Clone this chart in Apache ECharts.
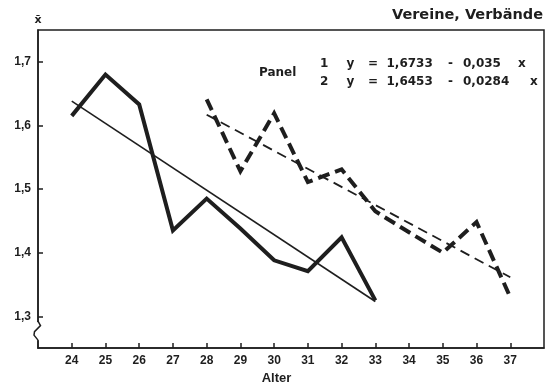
<!DOCTYPE html>
<html>
<head>
<meta charset="utf-8">
<script src="https://cdn.jsdelivr.net/npm/echarts@6/dist/echarts.min.js"></script>
<style>
  html, body { margin: 0; padding: 0; background: #fff; }
  #chart { width: 546px; height: 390px; }
</style>
</head>
<body>
<div id="chart"></div>
<script>
// Mean values by age (Alter) for two panels
const ages1 = [24, 25, 26, 27, 28, 29, 30, 31, 32, 33];
const panel1 = [1.615, 1.680, 1.633, 1.435, 1.485, 1.438, 1.388, 1.371, 1.424, 1.325];

const ages2 = [28, 29, 30, 31, 32, 33, 34, 35, 36, 37];
const panel2 = [1.641, 1.528, 1.619, 1.511, 1.531, 1.465, 1.432, 1.400, 1.448, 1.330];

// Fitted lines, end points (x = 1 and x = 10 of each panel)
// Panel 1: y = 1,6733 - 0,035 x ; Panel 2: y = 1,6453 - 0,0284 x
const fitAges1 = [24, 33];
const fit1 = [1.6383, 1.3233];
const fitAges2 = [28, 37];
const fit2 = [1.6169, 1.3613];

// Tick labels
const xTicks = [24, 25, 26, 27, 28, 29, 30, 31, 32, 33, 34, 35, 36, 37];
const yTicks = [1.3, 1.4, 1.5, 1.6, 1.7];

const title = 'Vereine, Verbände';
const eqLines = [
  { label: '1', slope: '0,035', icept: '1,6733' },
  { label: '2', slope: '0,0284', icept: '1,6453' }
];

const ink = '#1e1e1e';
const pairs = (xs, ys) => xs.map((x, i) => [x, ys[i]]);
const tickFont = { color: ink, fontFamily: 'Liberation Sans', fontWeight: 'bold', fontSize: 12 };
const eqFont = { fill: ink, fontFamily: 'DejaVu Sans', fontWeight: 'bold', fontSize: 12, verticalAlign: 'middle' };

const chart = echarts.init(document.getElementById('chart'), null, { renderer: 'canvas' });

function txt(id, text, x, y) {
  return { id: id, type: 'text', x: x, y: y, z: 100, style: Object.assign({ text: text }, eqFont) };
}

const eqGraphics = [];
eqLines.forEach((e, i) => {
  const y = 63.5 + i * 18;
  eqGraphics.push(txt('eqn' + i, e.label, 320, y));
  eqGraphics.push(txt('eqy' + i, 'y', 346.5, y));
  eqGraphics.push(txt('eqeq' + i, '=', 368, y));
  eqGraphics.push(txt('eqa' + i, e.icept, 386.5, y));
  eqGraphics.push(txt('eqm' + i, '-', 448, y));
  eqGraphics.push(txt('eqb' + i, e.slope, 463, y));
  eqGraphics.push(txt('eqx' + i, 'x', i === 0 ? 518 : 530, y));
});

chart.setOption({
  animation: false,
  backgroundColor: '#fff',
  grid: {
    left: 38, right: 2, top: 30, bottom: 33.3,
    show: true, borderColor: ink, borderWidth: 1.5
  },
  xAxis: {
    type: 'value', min: 23, max: 38, interval: 1,
    name: 'Alter', nameLocation: 'middle', nameGap: 20,
    nameTextStyle: { color: ink, fontFamily: 'Liberation Sans', fontWeight: 'bold', fontSize: 13, padding: [0, 29, 0, 0] },
    axisLine: { lineStyle: { color: ink, width: 1.5 } },
    axisTick: { inside: true, length: 5, lineStyle: { color: ink, width: 1.5 }, customValues: xTicks },
    axisLabel: Object.assign({ margin: 7, customValues: xTicks, formatter: v => String(v) }, tickFont),
    splitLine: { show: false }
  },
  yAxis: {
    type: 'value', min: 1.25, max: 1.75, interval: 0.05,
    name: 'x\u0304', nameLocation: 'end', nameGap: 4,
    nameTextStyle: { color: ink, fontFamily: 'DejaVu Sans', fontWeight: 'bold', fontSize: 11, align: 'center' },
    axisLine: { lineStyle: { color: ink, width: 1.5 } },
    axisTick: { inside: true, length: 5, lineStyle: { color: ink, width: 1.5 }, customValues: yTicks },
    axisLabel: Object.assign({ margin: 7, customValues: yTicks, formatter: v => v.toFixed(1).replace('.', ',') }, tickFont),
    splitLine: { show: false }
  },
  series: [
    {
      name: 'Panel 1', type: 'line', data: pairs(ages1, panel1), symbol: 'none',
      lineStyle: { color: ink, width: 4, join: 'miter', cap: 'butt' }, z: 3
    },
    {
      name: 'Panel 1 fit', type: 'line', data: pairs(fitAges1, fit1), symbol: 'none',
      lineStyle: { color: ink, width: 1.6 }, z: 2
    },
    {
      name: 'Panel 2', type: 'line', data: pairs(ages2, panel2), symbol: 'none',
      lineStyle: { color: ink, width: 4, type: [12, 6], join: 'miter', cap: 'butt' }, z: 3
    },
    {
      name: 'Panel 2 fit', type: 'line', data: pairs(fitAges2, fit2), symbol: 'none',
      lineStyle: { color: ink, width: 1.8, type: [10, 6] }, z: 2
    }
  ],
  graphic: [
    {
      id: 'title', type: 'text', right: 3, top: 8, z: 100,
      style: { text: title, fill: ink, fontFamily: 'DejaVu Sans', fontWeight: 'bold', fontSize: 14.5 }
    },
    txt('panelLabel', 'Panel', 259, 73)
  ].concat(eqGraphics)
});

// Axis break mark near the bottom of the value axis
const o = chart.convertToPixel({ gridIndex: 0 }, [23, 1.25]);
chart.setOption({
  graphic: [
    {
      id: 'breakMask', type: 'rect', z: 110,
      shape: { x: o[0] - 2.5, y: o[1] - 26, width: 5, height: 18 },
      style: { fill: '#fff' }
    },
    {
      id: 'breakMark', type: 'polyline', z: 111,
      shape: { points: [
        [o[0], o[1] - 27], [o[0] + 2.5, o[1] - 22.5], [o[0] - 3.5, o[1] - 16.5],
        [o[0] - 4, o[1] - 13], [o[0], o[1] - 8]
      ] },
      style: { stroke: ink, lineWidth: 1.5, fill: null }
    }
  ]
});
</script>
</body>
</html>
